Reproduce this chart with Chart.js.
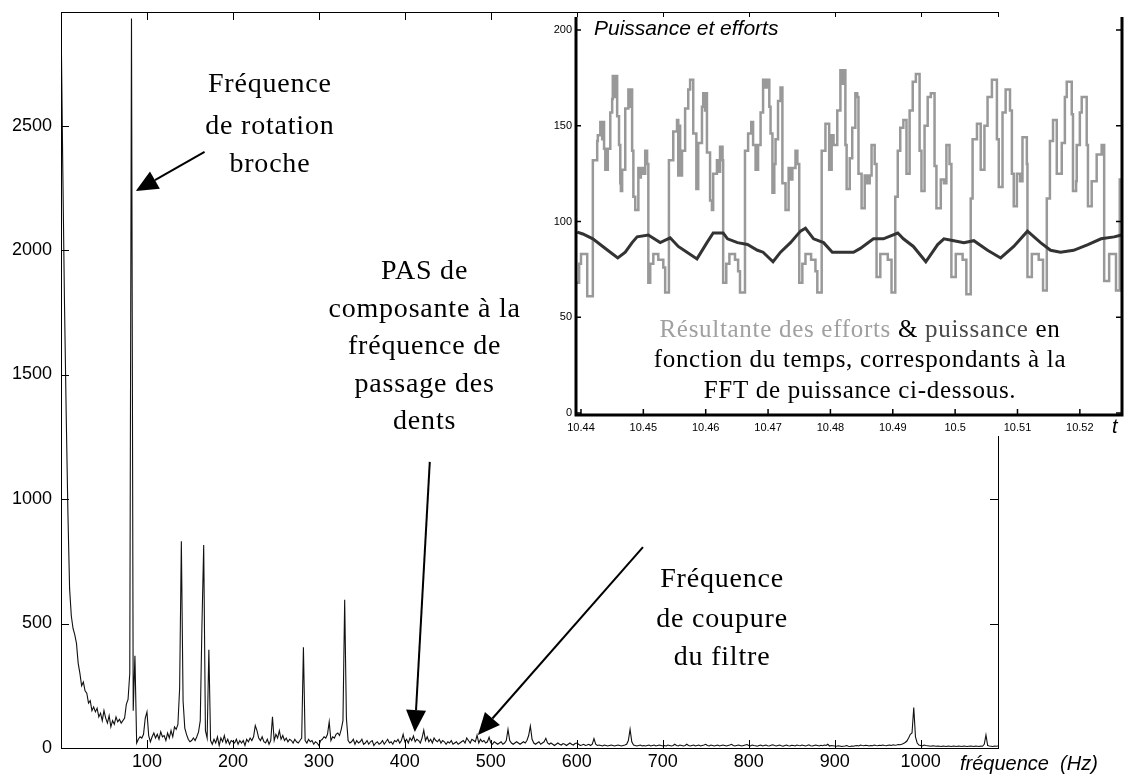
<!DOCTYPE html>
<html>
<head>
<meta charset="utf-8">
<script src="https://cdn.jsdelivr.net/npm/chart.js@4.4.1/dist/chart.umd.min.js"></script>
<style>
  html, body { margin: 0; padding: 0; background: #fff; }
  #wrap { position: relative; width: 1125px; height: 776px; }
  #main { position: absolute; left: 0; top: 0; }
  #inset { position: absolute; left: 548px; top: 17px; background: #fff; }
</style>
</head>
<body>
<div id="wrap">
  <canvas id="main" width="1125" height="776"></canvas>
  <canvas id="inset" width="577" height="419"></canvas>
</div>
<script>
// ====== DATA : FFT de puissance (pas de 2 Hz) ======
const FREQ_STEP_HZ = 2;
const ampBand0 = [ // 0 .. 198 Hz
  2950, 2350, 1800, 1350, 950, 640, 530, 480, 455, 420,
  340, 300, 250, 265, 230, 220, 180, 190, 150, 165,
  145, 160, 125, 140, 110, 150, 120, 100, 130, 85,
  110, 95, 125, 105, 115, 100, 110, 120, 175, 195,
  300, 2930, 150, 370, 20, 35, 45, 40, 55, 120,
  145, 50, 25, 45, 60, 40, 55, 35, 65, 45,
  50, 30, 60, 40, 70, 45, 85, 75, 95, 240,
  830, 190, 80, 55, 35, 25, 30, 40, 30, 45,
  65, 110, 500, 815, 70, 40, 395, 30, 15, 35,
  20, 45, 10, 40, 25, 50, 20, 35, 15, 30
];
const ampBand1 = [ // 200 .. 398 Hz
  25, 20, 35, 15, 30, 20, 30, 10, 35, 25,
  40, 30, 45, 90, 70, 40, 30, 45, 25, 20,
  35, 15, 30, 125, 30, 55, 40, 70, 35, 50,
  30, 40, 25, 35, 30, 20, 35, 25, 20, 30,
  40, 405, 30, 20, 35, 25, 30, 15, 25, 20,
  10, 30, 35, 45, 40, 55, 105, 30, 45, 40,
  55, 60, 50, 75, 110, 595, 120, 30, 20, 25,
  35, 15, 30, 20, 25, 35, 15, 20, 30, 15,
  25, 30, 10, 20, 25, 15, 20, 30, 15, 25,
  35, 20, 25, 15, 30, 25, 35, 20, 30, 55
];
const ampBand2 = [ // 400 .. 598 Hz
  25, 35, 20, 40, 30, 48, 25, 35, 30, 20,
  40, 72, 30, 45, 25, 35, 20, 40, 30, 25,
  35, 20, 30, 25, 15, 25, 20, 30, 15, 20,
  25, 15, 20, 25, 30, 20, 40, 30, 20, 35,
  30, 25, 52, 20, 35, 25, 30, 20, 25, 43,
  20, 15, 25, 20, 15, 20, 25, 15, 20, 30,
  75, 30, 20, 15, 20, 25, 20, 15, 20, 25,
  20, 30, 50, 88, 35, 20, 15, 20, 25, 15,
  20, 25, 39, 20, 15, 20, 15, 10, 15, 20,
  15, 12, 18, 15, 10, 15, 20, 15, 12, 18
];
const ampBand3 = [ // 600 .. 798 Hz
  20, 15, 10, 12, 15, 10, 12, 15, 10, 15,
  38, 15, 10, 12, 10, 8, 12, 10, 8, 10,
  12, 10, 8, 10, 12, 10, 8, 10, 12, 15,
  30, 75, 25, 12, 10, 8, 10, 12, 8, 10,
  8, 10, 12, 8, 10, 12, 8, 10, 12, 10,
  8, 10, 8, 12, 10, 8, 10, 15, 10, 8,
  12, 10, 8, 10, 15, 10, 8, 10, 12, 8,
  10, 12, 8, 10, 12, 15, 10, 8, 12, 10,
  8, 10, 12, 8, 10, 12, 10, 8, 10, 12,
  15, 10, 8, 10, 12, 10, 8, 10, 12, 14
];
const ampBand4 = [ // 800 .. 998 Hz
  10, 8, 12, 10, 9, 7, 10, 12, 8, 10,
  12, 9, 8, 11, 13, 10, 8, 10, 12, 9,
  7, 10, 12, 9, 8, 11, 10, 8, 12, 10,
  9, 12, 10, 8, 10, 13, 9, 8, 10, 12,
  10, 8, 11, 9, 12, 10, 15, 8, 10, 9,
  8, 7, 9, 8, 6, 7, 8, 10, 7, 6,
  8, 7, 9, 10, 8, 12, 10, 9, 11, 10,
  8, 10, 9, 12, 10, 9, 11, 10, 12, 10,
  9, 11, 12, 10, 13, 11, 12, 14, 13, 15,
  18, 22, 28, 40, 55, 60, 163, 45, 20, 12
];
const ampBand5 = [ // 1000 .. 1090 Hz
  10, 8, 12, 10, 9, 8, 7, 9, 8, 7,
  8, 7, 6, 8, 7, 6, 8, 7, 6, 8,
  7, 6, 8, 7, 6, 8, 7, 6, 7, 8,
  7, 6, 8, 7, 6, 8, 7, 15, 52, 10,
  8, 7, 6, 8, 7, 8
];
const bandStartsHz = [0, 200, 400, 600, 800, 1000];
const freqTicksHz = [100, 200, 300, 400, 500, 600, 700, 800, 900, 1000];
const ampTicks = [0, 500, 1000, 1500, 2000, 2500];

// ====== DATA : encart temps (s) ======
const effortT = [
  10.4392, 10.4397, 10.4400, 10.4410, 10.4419, 10.4426, 10.4427, 10.4431, 10.4434, 10.4435,
  10.4437, 10.4439, 10.4443, 10.4447, 10.4450, 10.4451, 10.4455, 10.4456, 10.4458, 10.4461,
  10.4463, 10.4464, 10.4466, 10.4471, 10.4476, 10.4479, 10.4480, 10.4482, 10.4484, 10.4487,
  10.4492, 10.4495, 10.4496, 10.4500, 10.4503, 10.4506, 10.4508, 10.4511, 10.4516, 10.4524,
  10.4532, 10.4535, 10.4541, 10.4548, 10.4554, 10.4556, 10.4557, 10.4559, 10.4562, 10.4567,
  10.4572, 10.4575, 10.4580, 10.4585, 10.4588, 10.4594, 10.4596, 10.4599, 10.4601, 10.4602,
  10.4607, 10.4610, 10.4612, 10.4618, 10.4622, 10.4623, 10.4627, 10.4628, 10.4633, 10.4638,
  10.4647, 10.4652, 10.4655, 10.4663, 10.4668, 10.4673, 10.4676, 10.4680, 10.4684, 10.4688,
  10.4692, 10.4696, 10.4699, 10.4702, 10.4704, 10.4707, 10.4710, 10.4712, 10.4716, 10.4720,
  10.4723, 10.4728, 10.4733, 10.4736, 10.4739, 10.4744, 10.4747, 10.4750, 10.4755, 10.4760,
  10.4769, 10.4776, 10.4779, 10.4786, 10.4792, 10.4798, 10.4802, 10.4805, 10.4811, 10.4816,
  10.4819, 10.4821, 10.4824, 10.4826, 10.4831, 10.4835, 10.4840, 10.4843, 10.4845, 10.4850,
  10.4855, 10.4859, 10.4863, 10.4866, 10.4871, 10.4874, 10.4880, 10.4892, 10.4898, 10.4904,
  10.4908, 10.4912, 10.4917, 10.4922, 10.4927, 10.4932, 10.4937, 10.4943, 10.4946, 10.4951,
  10.4956, 10.4961, 10.4967, 10.4970, 10.4977, 10.4982, 10.4986, 10.4991, 10.4994, 10.5001,
  10.5012, 10.5018, 10.5025, 10.5028, 10.5035, 10.5041, 10.5047, 10.5052, 10.5059, 10.5067,
  10.5070, 10.5076, 10.5081, 10.5088, 10.5091, 10.5094, 10.5099, 10.5104, 10.5108, 10.5115,
  10.5116, 10.5123, 10.5134, 10.5141, 10.5147, 10.5152, 10.5157, 10.5163, 10.5171, 10.5176,
  10.5179, 10.5187, 10.5189, 10.5194, 10.5195, 10.5200, 10.5203, 10.5211, 10.5213, 10.5219,
  10.5227, 10.5235, 10.5239, 10.5247, 10.5258, 10.5264, 10.5267
];
const effortVal = [
  68, 78, 83, 61, 132, 142, 145, 152, 143, 152,
  138, 127, 138, 157, 164, 176, 165, 176, 155, 140,
  120, 116, 127, 159, 169, 160, 169, 137, 113, 106,
  128, 123, 128, 125, 137, 130, 68, 78, 83, 80,
  76, 63, 132, 147, 153, 124, 150, 124, 137, 159,
  169, 174, 146, 117, 141, 160, 167, 158, 167, 136,
  111, 106, 125, 132, 126, 139, 132, 68, 78, 83,
  80, 74, 63, 137, 146, 152, 140, 127, 140, 157,
  174, 170, 174, 160, 146, 115, 130, 143, 163, 170,
  120, 106, 128, 122, 128, 137, 130, 68, 78, 83,
  80, 74, 63, 137, 151, 127, 145, 140, 158, 179,
  172, 179, 140, 117, 133, 149, 167, 165, 125, 107,
  124, 120, 124, 140, 130, 71, 83, 80, 63, 113,
  137, 149, 153, 125, 158, 173, 177, 137, 116, 150,
  165, 167, 129, 107, 122, 120, 140, 130, 71, 83,
  80, 62, 112, 143, 151, 127, 150, 165, 174, 143,
  118, 157, 169, 158, 125, 108, 125, 121, 144, 130,
  71, 83, 80, 64, 112, 142, 153, 125, 141, 165,
  173, 156, 116, 121, 140, 157, 165, 140, 108, 121,
  135, 140, 69, 83, 64, 122, 122
];
const powerT = [
  10.4394, 10.4403, 10.4419, 10.4435, 10.4447, 10.4459, 10.4471, 10.4482, 10.4490, 10.4508,
  10.4527, 10.4543, 10.4556, 10.4570, 10.4586, 10.4602, 10.4612, 10.4628, 10.4635, 10.4651,
  10.4667, 10.4683, 10.4692, 10.4708, 10.4720, 10.4736, 10.4752, 10.4760, 10.4773, 10.4789,
  10.4803, 10.4837, 10.4848, 10.4869, 10.4885, 10.4908, 10.4917, 10.4933, 10.4953, 10.4972,
  10.4982, 10.4998, 10.5014, 10.5030, 10.5052, 10.5073, 10.5094, 10.5116, 10.5137, 10.5153,
  10.5169, 10.5190, 10.5213, 10.5234, 10.5255, 10.5267
];
const powerVal = [
  94.5, 93.5, 91, 87, 84, 81, 84, 89, 92, 93,
  89, 91.5, 87, 84, 80.5, 89, 94, 94, 91, 89,
  88, 85, 84, 79, 84, 89, 95, 96.5, 91, 89,
  84, 84, 86, 91, 91, 94, 91, 87, 79, 88,
  91, 90, 89, 90, 85, 81, 87, 95, 89, 85,
  84, 85, 88, 91, 92, 93
];
const timeTicks = [10.44, 10.45, 10.46, 10.47, 10.48, 10.49, 10.5, 10.51, 10.52];
const insetValTicks = [0, 50, 100, 150, 200];

// ====== ANNOTATIONS (coordonnees en Hz / amplitude) ======
const NOTES = [
  { hz: 243, lines: [['Fréquence', 2635], ['de rotation', 2466], ['broche', 2313]] },
  { hz: 423, lines: [['PAS de', 1884], ['composante à la', 1731], ['fréquence de', 1582], ['passage des', 1430], ['dents', 1281]] },
  { hz: 769, lines: [['Fréquence', 647], ['de coupure', 486], ['du filtre', 333]] }
];
const ARROWS = [
  { fromHz: 167, fromAmp: 2394, toHz: 87, toAmp: 2237 },
  { fromHz: 429, fromAmp: 1149, toHz: 411.6, toAmp: 64 },
  { fromHz: 677, fromAmp: 807, toHz: 485, toAmp: 52 }
];

const SANS = "'Liberation Sans', Arial, sans-serif";
const SERIF = "'Liberation Serif', 'Times New Roman', serif";

const spectrum = [];
[ampBand0, ampBand1, ampBand2, ampBand3, ampBand4, ampBand5].forEach((band, b) => {
  band.forEach((v, i) => spectrum.push({ x: bandStartsHz[b] + i * FREQ_STEP_HZ, y: v }));
});
const effortPts = effortT.map((t, i) => ({ x: t, y: effortVal[i] }));
const powerPts = powerT.map((t, i) => ({ x: t, y: powerVal[i] }));

function noPad(s) { s.paddingTop = 0; s.paddingBottom = 0; s.paddingLeft = 0; s.paddingRight = 0; }

function drawArrow(ctx, x1, y1, x2, y2) {
  const a = Math.atan2(y2 - y1, x2 - x1);
  const L = 22, W = 10;
  const bx = x2 - L * Math.cos(a), by = y2 - L * Math.sin(a);
  ctx.strokeStyle = "#000";
  ctx.fillStyle = "#000";
  ctx.lineWidth = 2;
  ctx.beginPath(); ctx.moveTo(x1, y1); ctx.lineTo(bx, by); ctx.stroke();
  ctx.beginPath();
  ctx.moveTo(x2, y2);
  ctx.lineTo(bx + W * Math.sin(a), by - W * Math.cos(a));
  ctx.lineTo(bx - W * Math.sin(a), by + W * Math.cos(a));
  ctx.closePath(); ctx.fill();
}

// cadre + graduations interieures facon Matlab
const mainFrame = {
  id: "mainFrame",
  afterDatasetsDraw(chart) {
    const { ctx, chartArea: a, scales: { x, y } } = chart;
    const T = 8;
    ctx.save();
    ctx.strokeStyle = "#000";
    ctx.lineWidth = 1;
    ctx.strokeRect(a.left + 0.5, a.top + 0.5, a.right - a.left, a.bottom - a.top);
    ctx.beginPath();
    freqTicksHz.forEach((v) => {
      const px = Math.round(x.getPixelForValue(v)) + 0.5;
      ctx.moveTo(px, a.bottom); ctx.lineTo(px, a.bottom - T);
      ctx.moveTo(px, a.top); ctx.lineTo(px, a.top + T);
    });
    ampTicks.forEach((v) => {
      const py = Math.round(y.getPixelForValue(v)) + 0.5;
      ctx.moveTo(a.left, py); ctx.lineTo(a.left + T, py);
      ctx.moveTo(a.right, py); ctx.lineTo(a.right - T, py);
    });
    ctx.stroke();

    // textes
    ctx.fillStyle = "#000";
    ctx.font = "28px " + SERIF;
    ctx.letterSpacing = "0.8px";
    ctx.textAlign = "center";
    ctx.textBaseline = "alphabetic";
    NOTES.forEach((n) => {
      const cx = x.getPixelForValue(n.hz);
      n.lines.forEach(([txt, amp]) => ctx.fillText(txt, cx, y.getPixelForValue(amp)));
    });
    ctx.letterSpacing = "0px";
    ARROWS.forEach((r) => drawArrow(ctx,
      x.getPixelForValue(r.fromHz), y.getPixelForValue(r.fromAmp),
      x.getPixelForValue(r.toHz), y.getPixelForValue(r.toAmp)));

    ctx.font = "italic 20px " + SANS;
    ctx.textAlign = "left";
    ctx.fillText("fréquence  (Hz)", 960, 770);
    ctx.restore();
  }
};

new Chart(document.getElementById("main"), {
  type: "line",
  data: {
    datasets: [{
      data: spectrum,
      borderColor: "#111",
      borderWidth: 1.1,
      pointRadius: 0,
      tension: 0
    }]
  },
  options: {
    responsive: false,
    animation: false,
    events: [],
    layout: { padding: { top: 12, right: 127, left: 0, bottom: 0 } },
    plugins: { legend: { display: false }, tooltip: { enabled: false } },
    scales: {
      x: {
        type: "linear",
        min: 0,
        max: 1090,
        afterFit: (s) => { s.height = 28; noPad(s); },
        afterBuildTicks: (s) => { s.ticks = freqTicksHz.map((v) => ({ value: v })); },
        ticks: { font: { family: SANS, size: 18 }, color: "#000", padding: 3, maxRotation: 0, autoSkip: false,
                 callback: (v) => String(v) },
        grid: { display: false, drawTicks: false },
        border: { display: false }
      },
      y: {
        min: 0,
        max: 2956,
        afterFit: (s) => { s.width = 61; noPad(s); },
        afterBuildTicks: (s) => { s.ticks = ampTicks.map((v) => ({ value: v })); },
        ticks: { font: { family: SANS, size: 18 }, color: "#000", padding: 9, callback: (v) => String(v) },
        grid: { display: false, drawTicks: false },
        border: { display: false }
      }
    }
  },
  plugins: [mainFrame]
});

// ====== ENCART ======
const insetDeco = {
  id: "insetDeco",
  afterDatasetsDraw(chart) {
    const { ctx, chartArea: a, scales: { x, y } } = chart;
    ctx.save();
    ctx.strokeStyle = "#000";
    ctx.lineWidth = 3;
    ctx.beginPath();
    ctx.moveTo(a.left, a.top); ctx.lineTo(a.left, a.bottom);
    ctx.lineTo(a.right + 1, a.bottom); ctx.lineTo(a.right + 1, a.top);
    ctx.stroke();
    ctx.lineWidth = 1.5;
    ctx.beginPath();
    insetValTicks.forEach((v) => {
      const py = y.getPixelForValue(v);
      ctx.moveTo(a.left, py); ctx.lineTo(a.left + 5, py);
      ctx.moveTo(a.right, py); ctx.lineTo(a.right - 5, py);
    });
    timeTicks.forEach((v) => {
      const px = x.getPixelForValue(v);
      ctx.moveTo(px, a.bottom); ctx.lineTo(px, a.bottom - 6);
    });
    ctx.stroke();

    ctx.fillStyle = "#000";
    ctx.font = "italic 21px " + SANS;
    ctx.textAlign = "left";
    ctx.fillText("Puissance et efforts", 46, 18);
    ctx.font = "italic 20px " + SANS;
    ctx.fillText("t", 564, 416);

    // legende en texte
    ctx.font = "25px " + SERIF;
    ctx.letterSpacing = "0.7px";
    const rows = [
      { base: 320, parts: [["Résultante des efforts", "#a0a0a0"], [" & ", "#000"], ["puissance", "#4a4a4a"], [" en", "#000"]] },
      { base: 350, parts: [["fonction du temps, correspondants à la", "#000"]] },
      { base: 381, parts: [["FFT de puissance ci-dessous.", "#000"]] }
    ];
    rows.forEach((r) => {
      const w = r.parts.reduce((s, p) => s + ctx.measureText(p[0]).width, 0);
      let cx = 312 - w / 2;
      r.parts.forEach(([txt, col]) => {
        ctx.fillStyle = col;
        ctx.fillText(txt, cx, r.base);
        cx += ctx.measureText(txt).width;
      });
    });
    ctx.restore();
  }
};

new Chart(document.getElementById("inset"), {
  type: "line",
  data: {
    datasets: [
      { data: powerPts, borderColor: "#333", borderWidth: 3, pointRadius: 0, tension: 0 },
      { data: effortPts, borderColor: "#999", borderWidth: 2.5, pointRadius: 0, stepped: true }
    ]
  },
  options: {
    responsive: false,
    animation: false,
    events: [],
    layout: { padding: { top: 0, right: 4, left: 0, bottom: 0 } },
    plugins: { legend: { display: false }, tooltip: { enabled: false } },
    scales: {
      x: {
        type: "linear",
        min: 10.4392,
        max: 10.5266,
        afterFit: (s) => { s.height = 21; noPad(s); },
        afterBuildTicks: (s) => { s.ticks = timeTicks.map((v) => ({ value: v })); },
        ticks: { font: { family: SANS, size: 11 }, color: "#000", padding: 6, maxRotation: 0, autoSkip: false,
                 callback: (v) => String(Number(v.toFixed(2))) },
        grid: { display: false, drawTicks: false },
        border: { display: false }
      },
      y: {
        min: -1,
        max: 206.8,
        afterFit: (s) => { s.width = 28; noPad(s); },
        afterBuildTicks: (s) => { s.ticks = insetValTicks.map((v) => ({ value: v })); },
        ticks: { font: { family: SANS, size: 11 }, color: "#000", padding: 4 },
        grid: { display: false, drawTicks: false },
        border: { display: false }
      }
    }
  },
  plugins: [insetDeco]
});
</script>
</body>
</html>
